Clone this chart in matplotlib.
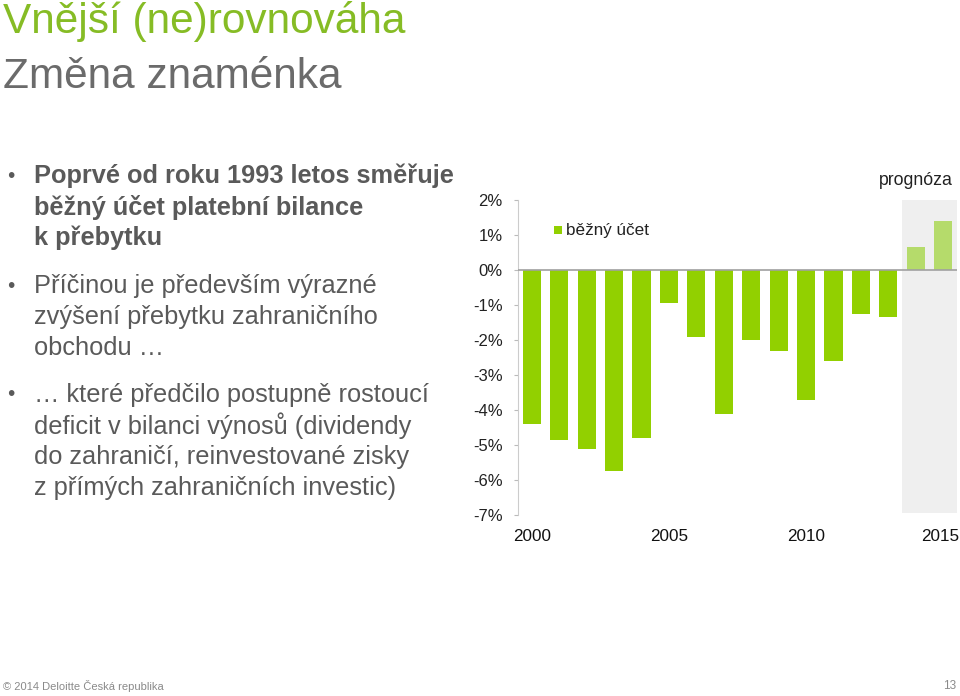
import numpy as np
import matplotlib.pyplot as plt
import matplotlib.transforms as mtransforms

plt.rcParams['font.family'] = ['Liberation Sans', 'DejaVu Sans']

# data
years = list(range(2000, 2016))
current_account = [-4.4, -4.85, -5.1, -5.75, -4.8, -0.95, -1.9, -4.1, -2.0, -2.3,
                   -3.7, -2.6, -1.25, -1.35, 0.65, 1.4]
forecast_years = [2014, 2015]
tick_years = [2000, 2005, 2010, 2015]
y_ticks = [2, 1, 0, -1, -2, -3, -4, -5, -6, -7]

green = '#92D000'
light_green = '#B5DB6B'
grey_text = '#5a5a5a'

fig = plt.figure(figsize=(9.6, 6.96), dpi=100)

# title block
fig.text(0.003, 1 - 21 / 696, 'Vnější (ne)rovnováha', color='#86BC25',
         fontsize=30.5, va='center', ha='left')
fig.text(0.003, 1 - 77 / 696, 'Změna znaménka', color='#6b6b6b',
         fontsize=30.5, va='center', ha='left')

# bullet points
bold_lines = ['Poprvé od roku 1993 letos směřuje',
              'běžný účet platební bilance',
              'k přebytku']
para2 = ['Příčinou je především výrazné',
         'zvýšení přebytku zahraničního',
         'obchodu …']
para3 = ['… které předčilo postupně rostoucí',
         'deficit v bilanci výnosů (dividendy',
         'do zahraničí, reinvestované zisky',
         'z přímých zahraničních investic)']

def draw_par(lines, y0, bold=False):
    fig.text(7 / 960, 1 - y0 / 696, '•', fontsize=15, color=grey_text,
             va='center', ha='left')
    for i, line in enumerate(lines):
        fig.text(34 / 960, 1 - (y0 + i * 31) / 696, line, fontsize=18.3,
                 color=grey_text, va='center', ha='left',
                 fontweight='bold' if bold else 'normal')

draw_par(bold_lines, 176, bold=True)
draw_par(para2, 286)
draw_par(para3, 395)

# chart
ax = fig.add_axes([518 / 960, 1 - 515 / 696, (957 - 518) / 960, (515 - 200) / 696])
x = np.arange(len(years))
colors = [light_green if y in forecast_years else green for y in years]
ax.axvspan(x[years.index(forecast_years[0])] - 0.5, x[-1] + 0.5,
           ymin=0.006, color='#efefef', zorder=0, lw=0)
ax.bar(x, current_account, width=0.66, color=colors, zorder=2)
ax.axhline(0, color='#a0a0a0', lw=1.2, zorder=3)

ax.set_xlim(-0.5, len(years) - 0.5)
ax.set_ylim(-7, 2)
ax.set_yticks(y_ticks)
ax.set_yticklabels([f'{t}%' for t in y_ticks], fontsize=12, color='#222222')
ax.set_xticks([years.index(t) for t in tick_years])
ax.set_xticklabels([str(t) for t in tick_years], fontsize=12.3, color='#111111')
ax.tick_params(axis='x', length=0, pad=10)
ax.tick_params(axis='y', length=3, color='#bbbbbb', pad=8)
for side in ['top', 'right', 'bottom']:
    ax.spines[side].set_visible(False)
ax.spines['left'].set_color('#cccccc')

# last year label sits at the right edge, nudge it inside
last = ax.get_xticklabels()[-1]
last.set_transform(last.get_transform() +
                   mtransforms.ScaledTranslation(-3 / 100, 0, fig.dpi_scale_trans))

# legend-like label
ax.scatter([0.95], [1.13], marker='s', s=34, color=green, zorder=4, lw=0)
ax.text(1.25, 1.13, 'běžný účet', fontsize=12.3, color='#222222', va='center', ha='left')
ax.text(15.35, 2.55, 'prognóza', fontsize=12.7, color='#222222', va='center',
        ha='right', clip_on=False)

# footer
fig.text(3 / 960, 1 - 686 / 696, '© 2014 Deloitte Česká republika', fontsize=8,
         color='#8a8a8a', va='center', ha='left')
fig.text(956 / 960, 1 - 686 / 696, '13', fontsize=8.5, color='#8a8a8a',
         va='center', ha='right')

fig.savefig('out.png', dpi=100)
